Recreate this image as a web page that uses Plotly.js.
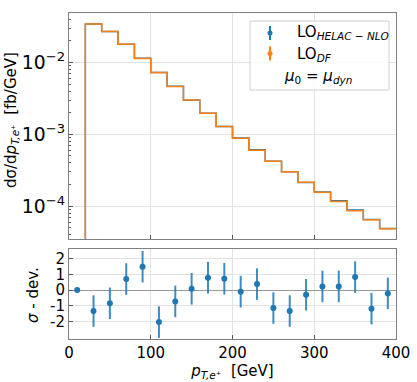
<!DOCTYPE html>
<html>
<head>
<meta charset="utf-8">
<script src="https://cdn.plot.ly/plotly-3.0.1.min.js"></script>
<style>body{margin:0;padding:0;background:#fff}</style>
</head>
<body>
<div id="chart" style="width:417px;height:382px"></div>
<script>
// bin edges in GeV (20 GeV bins)
var binEdges = [0,20,40,60,80,100,120,140,160,180,200,220,240,260,280,300,320,340,360,380,400];
// dsigma/dpT in fb/GeV, first bin empty
var loDF    = [1e-9,0.0344,0.0270,0.0180,0.0114,0.00726,0.00464,0.00300,0.00196,0.00129,0.00088,0.00060,0.000422,0.000300,0.000215,0.000156,0.000116,0.000086,0.0000645,0.0000484];
var loHelac = [1e-9,0.0344,0.0271,0.0180,0.0115,0.00724,0.00466,0.00299,0.00197,0.00128,0.00089,0.00061,0.000420,0.000302,0.000214,0.000157,0.000119,0.000088,0.0000650,0.0000486];
// deviation in units of sigma, per bin
var sigmaDev = [0,-1.33,-0.84,0.70,1.48,-2.03,-0.72,0.08,0.78,0.72,-0.10,0.38,-1.14,-1.33,-0.30,0.23,0.23,0.82,-1.18,-0.21];
var sigmaErr = [0,1,1,1,1,1,1,1,1,1,1,1,1,1,1,1,1,1,1,1];

var blue = "#1f77b4", orange = "#ff7f0e";
var font = "DejaVu Sans, sans-serif";

function stepY(v) { return v.concat([v[v.length - 1]]); }
var centers = binEdges.slice(0, -1).map(function (e, i) { return (e + binEdges[i + 1]) / 2; });

var data = [
  {type: "scatter", mode: "lines", x: binEdges, y: stepY(loHelac), line: {shape: "hv", color: blue, width: 1.5},
   xaxis: "x", yaxis: "y", showlegend: false, hoverinfo: "none"},
  {type: "scatter", mode: "lines", x: binEdges, y: stepY(loDF), line: {shape: "hv", color: orange, width: 1.5},
   xaxis: "x", yaxis: "y", showlegend: false, hoverinfo: "none"},
  {type: "scatter", mode: "markers", x: centers, y: sigmaDev,
   error_y: {type: "data", array: sigmaErr, visible: true, color: "rgba(31,119,180,0.85)", thickness: 2, width: 0},
   marker: {color: blue, size: 6}, xaxis: "x2", yaxis: "y2", showlegend: false, hoverinfo: "none"}
];

// pixel -> paper helpers (plot area 69..396 x 13..339)
function px(x) { return (x - 69) / 327; }
function py(y) { return (339 - y) / 326; }

var layout = {
  width: 417, height: 382,
  margin: {l: 69, r: 21, t: 13, b: 43},
  paper_bgcolor: "#fff", plot_bgcolor: "#fff",
  font: {family: font, size: 15, color: "#000"},
  showlegend: false,
  xaxis: {domain: [0, 1], range: [0, 400], anchor: "y", showticklabels: false, dtick: 100,
    ticks: "inside", ticklen: 4, tickcolor: "#555", showgrid: true, gridcolor: "#e3e3e3",
    showline: true, mirror: true, linecolor: "#808080", linewidth: 1, zeroline: false},
  yaxis: {domain: [0.3077, 1], type: "log", range: [-4.454, -1.31], anchor: "x", dtick: 1,
    exponentformat: "power", ticks: "inside", ticklen: 4, tickcolor: "#555",
    minor: {ticks: "inside", ticklen: 2, tickcolor: "#555", showgrid: false},
    showgrid: true, gridcolor: "#e3e3e3",
    showline: true, mirror: true, linecolor: "#808080", linewidth: 1, zeroline: false},
  xaxis2: {domain: [0, 1], range: [0, 400], anchor: "y2", dtick: 100,
    ticks: "inside", ticklen: 4, tickcolor: "#555", showgrid: true, gridcolor: "#e3e3e3",
    showline: true, mirror: true, linecolor: "#808080", linewidth: 1, zeroline: false,
    title: {text: "<i>p</i><sub><i>T,e</i>⁺</sub>  [GeV]", font: {size: 15}, standoff: 2}},
  yaxis2: {domain: [0, 0.276], range: [-3.1, 2.6], anchor: "x2", tickvals: [-2, -1, 0, 1, 2],
    ticktext: ["-2", "-1", "0", "1", "2"],
    ticks: "inside", ticklen: 4, tickcolor: "#555", showgrid: true, gridcolor: "#e3e3e3",
    showline: true, mirror: true, linecolor: "#808080", linewidth: 1,
    zeroline: true, zerolinecolor: "#999", zerolinewidth: 1},
  shapes: [
    {type: "rect", xref: "paper", yref: "paper", x0: px(250), x1: px(389), y0: py(21), y1: py(90),
     line: {color: "#d0d0d0", width: 1}, fillcolor: "rgba(255,255,255,0.85)"},
    {type: "line", xref: "paper", yref: "paper", x0: px(270), x1: px(270), y0: py(26), y1: py(40),
     line: {color: blue, width: 2}},
    {type: "circle", xref: "paper", yref: "paper", x0: px(267.5), x1: px(272.5), y0: py(30.5), y1: py(35.5),
     fillcolor: blue, line: {width: 0}},
    {type: "line", xref: "paper", yref: "paper", x0: px(270), x1: px(270), y0: py(46.5), y1: py(60.5),
     line: {color: orange, width: 2}},
    {type: "circle", xref: "paper", yref: "paper", x0: px(267.5), x1: px(272.5), y0: py(51), y1: py(56),
     fillcolor: orange, line: {width: 0}}
  ],
  annotations: [
    {xref: "paper", yref: "paper", x: px(295), y: py(33), xanchor: "left", yanchor: "middle", showarrow: false,
     text: "LO<sub><i>HELAC − NLO</i></sub>", font: {size: 15}},
    {xref: "paper", yref: "paper", x: px(295), y: py(54), xanchor: "left", yanchor: "middle", showarrow: false,
     text: "LO<sub><i>DF</i></sub>", font: {size: 15}},
    {xref: "paper", yref: "paper", x: px(318), y: py(76), xanchor: "center", yanchor: "middle", showarrow: false,
     text: "<i>μ</i><sub>0</sub> = <i>μ</i><sub><i>dyn</i></sub>", font: {size: 15}},
    // axis titles placed as in the reference
    {xref: "paper", yref: "paper", x: px(11), y: py(120), xanchor: "center", yanchor: "middle", showarrow: false,
     textangle: -90, text: "dσ/d<i>p</i><sub><i>T,e</i>⁺</sub>  [fb/GeV]", font: {size: 15}},
    {xref: "paper", yref: "paper", x: px(33), y: py(295), xanchor: "center", yanchor: "middle", showarrow: false,
     textangle: -90, text: "<i>σ</i> - dev.", font: {size: 15}}
  ]
};

Plotly.newPlot("chart", data, layout, {displayModeBar: false, staticPlot: true});
</script>
</body>
</html>
